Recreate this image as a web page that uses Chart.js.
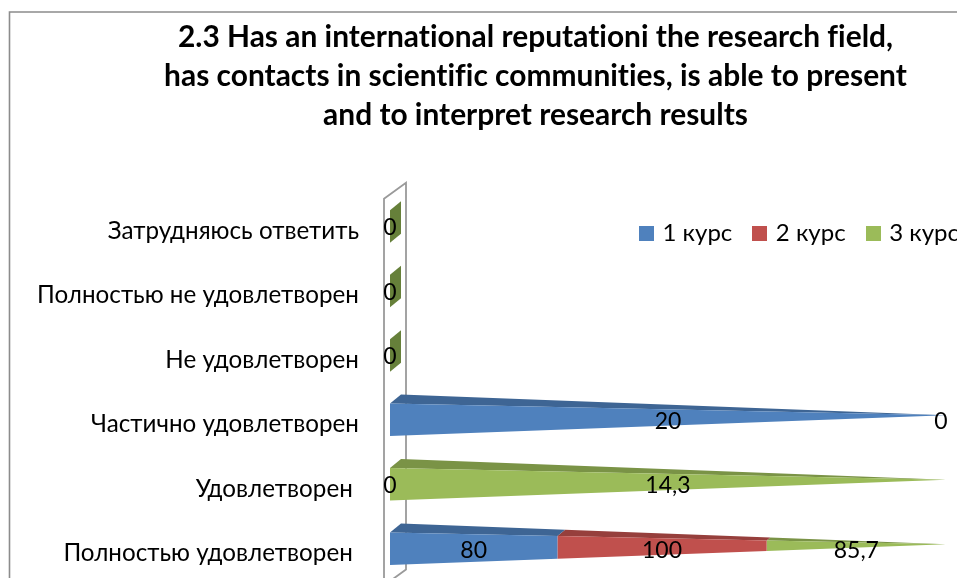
<!DOCTYPE html>
<html><head><meta charset="utf-8">
<style>html,body{margin:0;padding:0;background:#fff;overflow:hidden;width:957px;height:578px}
#w{width:957px;height:578px;overflow:hidden;position:relative}canvas{display:block}</style>
<script src="https://cdn.jsdelivr.net/npm/chart.js@4"></script></head>
<body><div id="w"><canvas id="c" width="957" height="623"></canvas></div>
<script>
const titleLines = ["2.3 Has an international reputationi the research field,","has contacts in scientific communities, is able to present","and to interpret research results"];
const categories = ["Затрудняюсь ответить","Полностью не удовлетворен","Не удовлетворен","Частично удовлетворен","Удовлетворен ","Полностью удовлетворен "];
const seriesNames = ["1 курс","2 курс","3 курс"];
const kurs1 = [null,null,null,20,0,80];
const kurs2 = [null,null,null,null,null,100];
const kurs3 = [0,0,0,0,14.3,85.7];
const faceColors = ["#4f81bd","#c0504d","#9bbb59"];
const topColors = ["#3e6594","#963f3c","#7a9346"];
const zeroColor = "#66803a";
const FONT = "Lato, 'Noto Sans', sans-serif";
const raw = [kurs1,kurs2,kurs3];
const totals = categories.map((_,i)=>raw.reduce((s,a)=>s+(a[i]||0),0));
const share = a => a.map((v,i)=> v===null?null:(totals[i]?v/totals[i]*100:0));
const DEPTH_X=11, DEPTH_Y=9, FRONT_DY=-4.5, APEX_DY=-4.5;
function swatch(col){const s=document.createElement('canvas');s.width=15;s.height=15;const x=s.getContext('2d');x.fillStyle=col;x.fillRect(0,0,15,15);return s;}
function drawCone(chart,el,ci,rowIdx,col,topCol){
  const xs=chart.scales.x, x0=xs.getPixelForValue(0), x1=xs.getPixelForValue(100);
  const cy=el.y+FRONT_DY, h=el.height/2, ax=x1, ay=cy+APEX_DY, c=chart.ctx;
  const t=p=>(p-x0)/(x1-x0);
  const P=(sx,sy,u)=>[sx+(ax-sx)*u, sy+(ay-sy)*u];
  const a=t(el.base), b=t(el.x);
  const poly=(pts,f)=>{c.beginPath();pts.forEach((p,i)=>i?c.lineTo(p[0],p[1]):c.moveTo(p[0],p[1]));c.closePath();c.fillStyle=f;c.fill();};
  if(totals[rowIdx]===0){
    poly([[x0,cy-h],[x0+DEPTH_X,cy-h-DEPTH_Y],[x0+DEPTH_X,cy+h-DEPTH_Y],[x0,cy+h]],zeroColor);return;
  }
  if(b-a<=0)return;
  poly([P(x0,cy-h,a),P(x0+DEPTH_X,cy-h-DEPTH_Y,a),P(x0+DEPTH_X,cy-h-DEPTH_Y,b),P(x0,cy-h,b)],topCol);
  poly([P(x0,cy-h,a),P(x0,cy-h,b),P(x0,cy+h,b),P(x0,cy+h,a)],col);
}
const conePlugin={id:'cone',
  afterLayout(chart){
    const lg=chart.legend,p=lg.options.labels.padding;
    chart.titleBlock.left=125;
    lg.left=642.5-p; lg.right=2000;
    lg.top=235-p-14; lg.bottom=lg.top+100;
  },
  beforeDraw(chart){
    const c=chart.ctx;
    c.letterSpacing='0.01px';
    c.save();c.strokeStyle="#8c8c8c";c.lineWidth=1.6;
    c.beginPath();c.moveTo(9.5,640);c.lineTo(9.5,12);c.lineTo(960,12);c.stroke();c.restore();
  },
  beforeDatasetsDraw(chart){
    const a=chart.chartArea,c=chart.ctx,l=a.left-6;c.save();c.strokeStyle="#9a9a9a";c.lineWidth=1.8;
    c.beginPath();c.moveTo(l,a.bottom);c.lineTo(l,a.top);c.lineTo(l+22,a.top-16);c.lineTo(l+22,a.bottom-16);c.lineTo(l,a.bottom);c.stroke();c.restore();
  },
  beforeDatasetDraw(chart,args){
    const i=args.index,m=args.meta;
    m.data.forEach((el,r)=>{ if(raw[i][r]!==null) drawCone(chart,el,i,r,faceColors[i],topColors[i]);});
    return false;
  },
  afterDatasetsDraw(chart){
    const c=chart.ctx,rm=chart.chartArea.right-5;c.save();c.font="23px "+FONT;c.fillStyle="#000";c.textAlign="center";c.textBaseline="middle";
    raw.forEach((a,i)=>{chart.getDatasetMeta(i).data.forEach((el,r)=>{
      if(a[r]===null)return;
      c.fillText(String(a[r]).replace('.',','),Math.min((el.base+el.x)/2,rm),el.y-3);
    });});
    c.restore();
  }
};
new Chart(document.getElementById('c'),{type:'bar',
  data:{labels:categories,datasets:seriesNames.map((n,i)=>({label:n,data:share(raw[i]),backgroundColor:faceColors[i],categoryPercentage:1,barPercentage:0.504}))},
  plugins:[conePlugin],
  options:{indexAxis:'y',responsive:false,animation:false,
    layout:{padding:{left:0,right:11,top:0,bottom:0}},
    scales:{
      x:{stacked:true,min:0,max:100,display:false},
      y:{stacked:true,grid:{display:false},border:{display:false},
        afterFit(s){s.width=390;},
        ticks:{autoSkip:false,padding:23,color:"#000",font:{family:FONT,size:24.2}}}
    },
    plugins:{
      tooltip:{enabled:false},
      title:{display:true,text:titleLines,color:"#000",font:{family:FONT,size:29.9,weight:'bold',lineHeight:1.304},padding:{top:17.5,bottom:6.8}},
      legend:{position:'top',align:'start',labels:{boxWidth:15,boxHeight:15,padding:23.5,color:"#000",font:{family:FONT,size:24},usePointStyle:true,pointStyleWidth:8,
        generateLabels(chart){return chart.data.datasets.map((d,i)=>({text:d.label,fontColor:"#000",pointStyle:swatch(faceColors[i]),datasetIndex:i,hidden:false,lineWidth:0}));}}}
    }
  }
});
</script></body></html>
